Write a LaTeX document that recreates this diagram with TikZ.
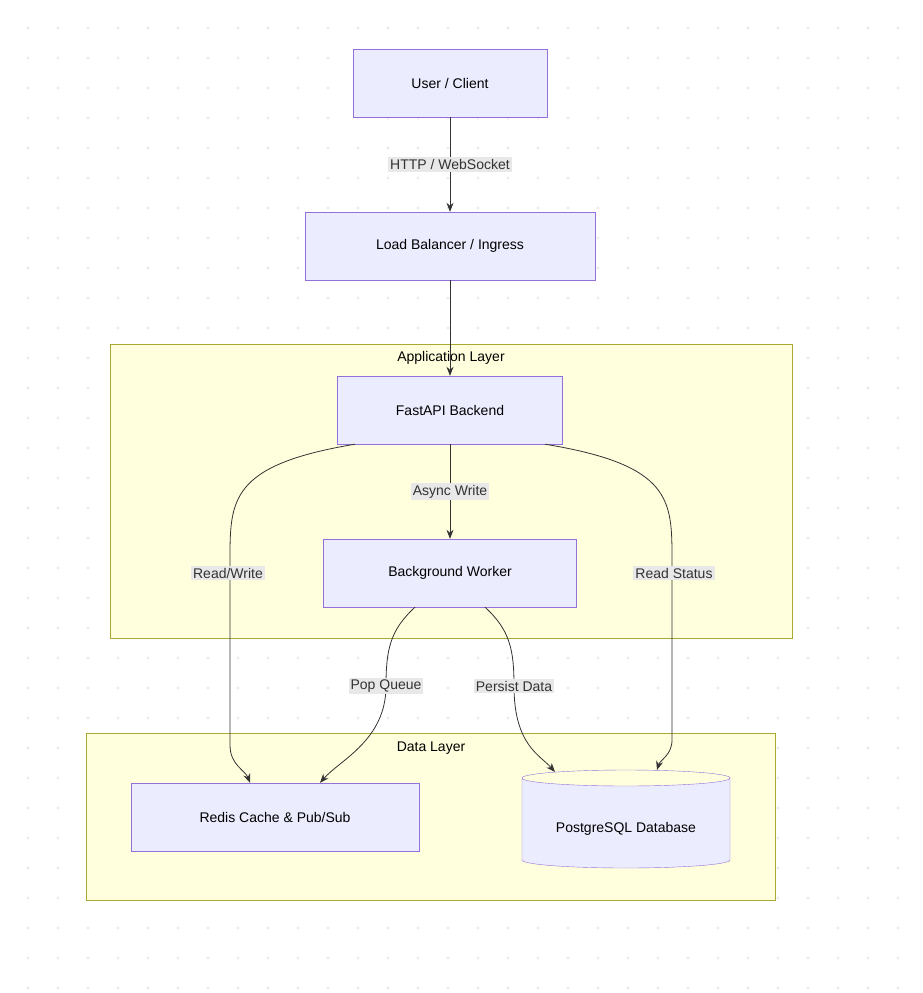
\documentclass[tikz,border=0pt]{standalone}
\usepackage{fontspec}
\setmainfont{Liberation Sans}
\usetikzlibrary{arrows.meta, positioning, calc}
\definecolor{nodeFill}{HTML}{ECECFF}
\definecolor{nodeLine}{HTML}{9370DB}
\definecolor{layerFill}{HTML}{FFFFDE}
\definecolor{layerLine}{HTML}{AAAA33}
\definecolor{edgeLabel}{HTML}{E8E8E8}
\definecolor{edgeLine}{HTML}{333333}
\begin{document}
\begin{tikzpicture}[
    x=1pt, y=-1pt,
    font=\fontsize{14}{16}\selectfont,
    box/.style={draw=nodeLine, fill=nodeFill, minimum height=68pt, inner sep=0pt},
    layer/.style={draw=layerLine, fill=layerFill},
    lbl/.style={fill=edgeLabel, inner sep=2pt, text=edgeLine},
    arrow/.style={-{Stealth[length=9pt,width=7pt]}, edgeLine, line width=0.8pt}
]
    \useasboundingbox (0,0) rectangle (922,993);
    % dotted background
    \foreach \i in {0,...,29} {
        \foreach \j in {0,...,32} {
            \fill[black!8] (28+30*\i, 28+30*\j) circle (1.6pt);
        }
    }
    % layers
    \draw[layer] (110,344) rectangle (792,638);
    \node (applabel) at (451,358) {Application Layer};
    \draw[layer] (86,733) rectangle (775,900);
    \node (datalabel) at (431,748) {Data Layer};

    \node[box, minimum width=194pt] (client) at (450,83) {User / Client};
    \node[box, minimum width=290pt] (lb) at (450,246) {Load Balancer / Ingress};
    \node[box, minimum width=225pt] (fastapi) at (450,410) {FastAPI Backend};
    \node[box, minimum width=253pt] (worker) at (450,573) {Background Worker};
    \node[box, minimum width=288pt] (redis) at (275,817) {Redis Cache \& Pub/Sub};

    % cylinder
    \node[minimum width=208pt, minimum height=98pt] (postgres) at (626,819) {};
    \draw[draw=nodeLine, fill=nodeFill] (522,778) -- (522,860)
        arc[start angle=180, end angle=360, x radius=104pt, y radius=8pt]
        -- (730,778)
        arc[start angle=0, end angle=180, x radius=104pt, y radius=-8pt];
    \draw[draw=nodeLine] (522,778)
        arc[start angle=180, end angle=360, x radius=104pt, y radius=-8pt];
    \node (pglabel) at (626,829) {PostgreSQL Database};

    \draw[arrow] (client) -- node[lbl] {HTTP / WebSocket} (lb);
    \draw[arrow] (lb) -- (fastapi);
    \draw[arrow] (fastapi) -- node[lbl] {Async Write} (worker);

    \draw[arrow] ([xshift=-95pt]fastapi.south) .. controls (230,465) and (230,500) .. (230,560)
        -- (230,745) .. controls (230,765) and (245,770) .. ([xshift=-25pt]redis.north);
    \node[lbl] (rw) at (228,573) {Read/Write};

    \draw[arrow] ([xshift=95pt]fastapi.south) .. controls (672,465) and (672,500) .. (672,560)
        -- (672,740) .. controls (672,755) and (660,760) .. (657,770);
    \node[lbl] (rs) at (674,573) {Read Status};

    \draw[arrow] ([xshift=-35pt]worker.south) .. controls (390,630) and (386,650) .. (386,686)
        .. controls (386,740) and (340,760) .. ([xshift=45pt]redis.north);
    \node[lbl] (pq) at (386,686) {Pop Queue};

    \draw[arrow] ([xshift=35pt]worker.south) .. controls (510,630) and (514,650) .. (514,686)
        .. controls (514,745) and (540,755) .. (555,772);
    \node[lbl] (pd) at (514,686) {Persist Data};
\end{tikzpicture}
\end{document}
